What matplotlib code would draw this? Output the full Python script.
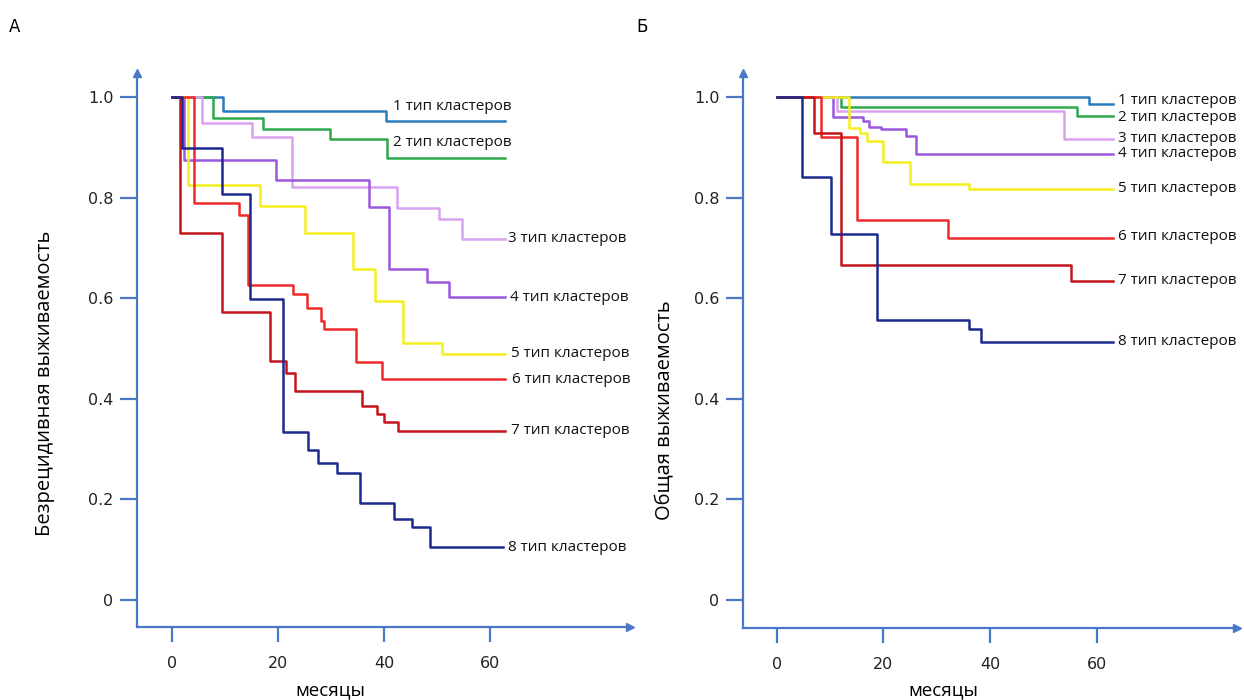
import matplotlib
matplotlib.use("Agg")
import matplotlib.pyplot as plt
from matplotlib import font_manager

# ---------------- data ----------------
cluster_labels = ["1 тип кластеров", "2 тип кластеров", "3 тип кластеров", "4 тип кластеров",
                  "5 тип кластеров", "6 тип кластеров", "7 тип кластеров", "8 тип кластеров"]
colors = ["#2b7bb9", "#2ea84c", "#d9a2ef", "#9a58dd", "#f4ef1e", "#ee2a2a", "#c3141c", "#1c2a8e"]

# Panel A: relapse-free survival (time in months, survival)
a_t1 = [0, 9.7, 40.3, 62.8]
a_s1 = [1.0, 0.972, 0.952, 0.952]
a_t2 = [0, 7.8, 17.1, 29.9, 40.6, 62.8]
a_s2 = [1.0, 0.958, 0.936, 0.916, 0.879, 0.879]
a_t3 = [0, 5.6, 15.0, 22.6, 42.4, 50.3, 54.8, 62.8]
a_s3 = [1.0, 0.948, 0.920, 0.822, 0.780, 0.757, 0.718, 0.718]
a_t4 = [0, 2.3, 19.6, 37.2, 41.0, 48.2, 52.3, 62.8]
a_s4 = [1.0, 0.875, 0.834, 0.782, 0.659, 0.633, 0.602, 0.602]
a_t5 = [0, 3.1, 16.6, 25.1, 34.2, 38.3, 43.5, 51.0, 62.8]
a_s5 = [1.0, 0.825, 0.783, 0.729, 0.659, 0.595, 0.510, 0.490, 0.490]
a_t6 = [0, 4.1, 12.7, 14.3, 22.8, 25.5, 28.1, 28.7, 34.7, 39.6, 62.8]
a_s6 = [1.0, 0.790, 0.765, 0.626, 0.608, 0.581, 0.555, 0.538, 0.473, 0.439, 0.439]
a_t7 = [0, 1.5, 9.4, 18.4, 21.5, 23.2, 35.9, 38.7, 40.0, 42.6, 62.8]
a_s7 = [1.0, 0.729, 0.573, 0.475, 0.451, 0.416, 0.386, 0.370, 0.353, 0.336, 0.336]
a_t8 = [0, 1.8, 9.4, 14.8, 20.9, 25.7, 27.6, 31.1, 35.5, 41.8, 45.3, 48.7, 62.5]
a_s8 = [1.0, 0.899, 0.807, 0.598, 0.333, 0.298, 0.272, 0.252, 0.193, 0.162, 0.146, 0.105, 0.105]

# Panel B: overall survival
b_t1 = [0, 58.5, 63.0]
b_s1 = [1.0, 0.987, 0.987]
b_t2 = [0, 12.1, 56.3, 63.0]
b_s2 = [1.0, 0.981, 0.962, 0.962]
b_t3 = [0, 11.4, 53.8, 63.0]
b_s3 = [1.0, 0.972, 0.917, 0.917]
b_t4 = [0, 10.5, 16.2, 17.4, 19.6, 24.3, 26.1, 63.0]
b_s4 = [1.0, 0.960, 0.953, 0.940, 0.936, 0.923, 0.887, 0.887]
b_t5 = [0, 13.5, 15.7, 17.0, 19.9, 25.0, 36.1, 63.0]
b_s5 = [1.0, 0.938, 0.928, 0.913, 0.870, 0.828, 0.817, 0.817]
b_t6 = [0, 8.3, 15.0, 32.2, 63.0]
b_s6 = [1.0, 0.920, 0.755, 0.719, 0.719]
b_t7 = [0, 7.0, 12.1, 55.2, 63.0]
b_s7 = [1.0, 0.929, 0.665, 0.635, 0.635]
b_t8 = [0, 4.8, 10.2, 18.8, 36.1, 38.3, 63.0]
b_s8 = [1.0, 0.840, 0.728, 0.557, 0.538, 0.513, 0.513]

x_ticks = [0, 20, 40, 60]
y_ticks = [0, 0.2, 0.4, 0.6, 0.8, 1.0]
y_tick_labels = ["0", "0.2", "0.4", "0.6", "0.8", "1.0"]
panel_letters = ["А", "Б"]
y_titles = ["Безрецидивная выживаемость", "Общая выживаемость"]
x_title = "месяцы"

# ---------------- style ----------------
AXC = "#4a78c8"
names = {f.name for f in font_manager.fontManager.ttflist}
txt_family = [f for f in ["Open Sans", "Noto Sans", "DejaVu Sans"] if f in names]
plt.rcParams["font.family"] = ["DejaVu Sans"]

fig = plt.figure(figsize=(12.44, 7.0), dpi=100)
axA = fig.add_axes([137 / 1244, 1 - 627 / 700, (630 - 137) / 1244, (627 - 73) / 700])
axB = fig.add_axes([743 / 1244, 1 - 628 / 700, (1237 - 743) / 1244, (628 - 73) / 700])

A_series = [(a_t1, a_s1), (a_t2, a_s2), (a_t3, a_s3), (a_t4, a_s4),
            (a_t5, a_s5), (a_t6, a_s6), (a_t7, a_s7), (a_t8, a_s8)]
B_series = [(b_t1, b_s1), (b_t2, b_s2), (b_t3, b_s3), (b_t4, b_s4),
            (b_t5, b_s5), (b_t6, b_s6), (b_t7, b_s7), (b_t8, b_s8)]

# label anchor layout: (x, dy relative to final value)
A_label_pos = [(41.7, 0.030), (41.7, 0.030), (63.3, 0), (63.8, 0), (64.0, 0), (64.2, 0), (64.0, 0), (63.4, 0)]
B_label_pos = [(64.0, 0.007), (64.0, -0.002), (64.0, 0.0), (64.0, 0.0), (64.0, 0.002), (64.0, 0.003), (64.0, 0.001), (64.0, 0.0)]


def setup(ax, xlim, ylim):
    ax.set_xlim(*xlim)
    ax.set_ylim(*ylim)
    for s in ["top", "right"]:
        ax.spines[s].set_visible(False)
    for s in ["left", "bottom"]:
        ax.spines[s].set_color(AXC)
        ax.spines[s].set_linewidth(1.6)
    ax.set_xticks(x_ticks)
    ax.set_yticks(y_ticks)
    ax.set_yticklabels(y_tick_labels)
    ax.tick_params(axis="y", direction="out", length=12, width=1.6, color=AXC, pad=5,
                   labelsize=11.5, labelcolor="#222222")
    ax.tick_params(axis="x", direction="out", length=11, width=1.6, color=AXC, pad=10,
                   labelsize=11.5, labelcolor="#222222")
    ax.plot([1], [0], marker=">", color=AXC, markersize=6, transform=ax.transAxes, clip_on=False)
    ax.plot([0], [1], marker="^", color=AXC, markersize=6, transform=ax.transAxes, clip_on=False)
    ax.patch.set_alpha(0)


setup(axA, (-6.6, 86.4), (-0.0537, 1.0477))
setup(axB, (-6.3, 86.3), (-0.0557, 1.0477))

for ax, series, lpos in [(axA, A_series, A_label_pos), (axB, B_series, B_label_pos)]:
    for i in range(8):
        t, s = series[i]
        ax.step(t, s, where="post", color=colors[i], lw=1.8, clip_on=False,
                zorder=3 + (0.5 if i == 7 else 0))
        lx, dy = lpos[i]
        ax.text(lx, s[-1] + dy, cluster_labels[i], fontsize=11, family=txt_family,
                va="center", ha="left", color="#111111")

axA.set_xlabel(x_title, fontsize=13.5, family=txt_family)
axB.set_xlabel(x_title, fontsize=13.5, family=txt_family)
axA.set_ylabel(y_titles[0], fontsize=14.5, family=txt_family)
axB.set_ylabel(y_titles[1], fontsize=14.5, family=txt_family)
axA.yaxis.set_label_coords(-92 / 493, (627 - 383) / 554)
axB.yaxis.set_label_coords(-78 / 494, (628 - 410) / 555)
axA.xaxis.set_label_coords((330 - 137) / 493, -(690 - 627) / 554)
axB.xaxis.set_label_coords((943 - 743) / 494, -(690 - 628) / 555)
for lab in (axA.xaxis.label, axB.xaxis.label, axA.yaxis.label, axB.yaxis.label):
    lab.set_va("center")

fig.text(15 / 1244, 1 - 27 / 700, panel_letters[0], fontsize=12, va="center", ha="center")
fig.text(642 / 1244, 1 - 27 / 700, panel_letters[1], fontsize=12, va="center", ha="center")

fig.savefig("out.png", dpi=100, facecolor="white")
